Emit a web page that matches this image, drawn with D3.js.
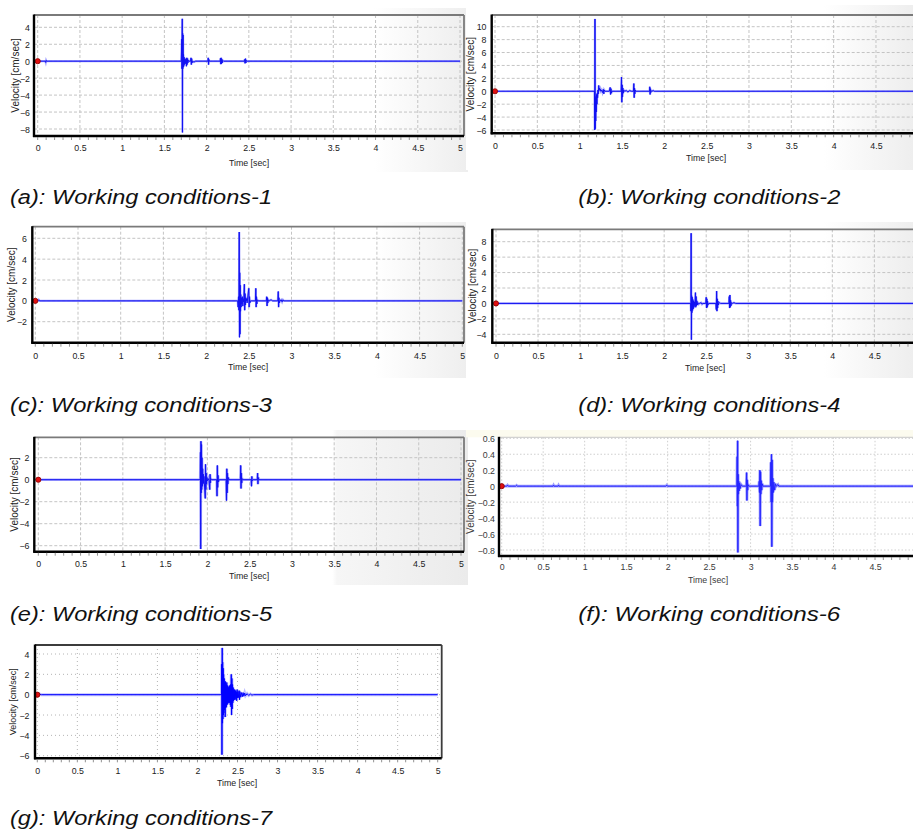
<!DOCTYPE html>
<html><head><meta charset="utf-8">
<script src="https://cdn.jsdelivr.net/npm/d3@7"></script>
<style>
body{margin:0;background:#fff}
svg{display:block}
text{font-family:"Liberation Sans",Arial,sans-serif}
</style>
</head><body>
<svg id="chart" width="913" height="829"></svg>
<script>
// ---------- DATA ----------
const timeTicks = [0, 0.5, 1, 1.5, 2, 2.5, 3, 3.5, 4, 4.5, 5];
const yAxisTitle = "Velocity [cm/sec]";
const xAxisTitle = "Time [sec]";
const captions = ["(a): Working conditions-1", "(b): Working conditions-2", "(c): Working conditions-3",
  "(d): Working conditions-4", "(e): Working conditions-5", "(f): Working conditions-6", "(g): Working conditions-7"];

const yTicksA = [-8, -6, -4, -2, 0, 2, 4];
const yTicksB = [-6, -4, -2, 0, 2, 4, 6, 8, 10];
const yTicksC = [-2, 0, 2, 4, 6];
const yTicksD = [-4, -2, 0, 2, 4, 6, 8];
const yTicksE = [-6, -4, -2, 0, 2];
const yTicksF = [-0.8, -0.6, -0.4, -0.2, 0, 0.2, 0.4, 0.6];
const yTicksG = [-6, -4, -2, 0, 2, 4];

// [time (sec), velocity (cm/sec)]
const waveA = [[0,0],[0.09,0],[0.095,-0.15],[0.1,0.1],[0.105,0],
 [1.70,0],[1.706,2.6],[1.708,-0.9],[1.710,2.9],[1.712,5.0],[1.714,-8.4],[1.716,3.3],[1.718,-0.9],[1.721,3.1],[1.723,-0.7],
 [1.726,0.8],[1.729,-0.6],[1.732,0.5],[1.736,-0.4],[1.74,0.3],[1.744,-0.2],[1.748,0.2],[1.752,-0.3],[1.757,0.3],[1.761,-0.6],
 [1.765,0.4],[1.769,-0.4],[1.774,0.3],[1.778,-0.2],[1.784,0.1],[1.79,0],[1.81,0],[1.815,0.4],[1.819,-0.4],[1.823,0.3],
 [1.828,-0.2],[1.834,0],[1.85,-0.1],[1.87,0],
 [2.015,0],[2.019,0.4],[2.023,-0.4],[2.027,0.2],[2.032,0],
 [2.16,0],[2.164,0.35],[2.168,-0.35],[2.172,0.4],[2.176,-0.3],[2.18,0.25],[2.185,-0.2],[2.19,0.1],[2.2,0],
 [2.445,0],[2.45,0.2],[2.455,-0.25],[2.46,0.3],[2.465,-0.2],[2.47,0.1],[2.48,0],[5,0]];

const waveB = [[0,0],[1.175,0],[1.178,-6.0],[1.181,11.2],[1.184,-5.8],[1.187,-1.0],[1.19,-4.6],[1.193,-0.8],[1.196,-3.2],
 [1.2,-0.5],[1.204,-2.0],[1.208,-0.3],[1.212,-1.0],[1.216,0.2],[1.22,-0.4],[1.225,0.9],[1.23,0.2],[1.235,0.5],[1.24,0.1],
 [1.245,0.3],[1.25,0],[1.26,0.2],[1.27,-0.2],[1.28,0.3],[1.285,-0.4],[1.29,0.2],[1.3,0],[1.35,0],[1.36,0.6],[1.365,-0.5],
 [1.37,0.4],[1.375,-0.3],[1.38,0],
 [1.49,0],[1.494,2.2],[1.498,-1.7],[1.502,1.0],[1.506,-0.9],[1.51,0.5],[1.515,-0.3],[1.52,0.2],[1.53,0],[1.55,0.1],
 [1.57,-0.1],[1.59,0.1],[1.61,0],
 [1.635,0],[1.64,1.2],[1.644,-1.0],[1.648,0.5],[1.652,-0.4],[1.656,0.2],[1.66,0],
 [1.825,0],[1.828,0.7],[1.832,-0.5],[1.836,0.4],[1.84,-0.2],[1.845,0.1],[1.85,0],[1.87,0.1],[1.88,0],[5,0]];

const waveC = [[0,0],[0.03,0],[0.04,0.1],[0.05,0],
 [2.37,0],[2.375,-0.6],[2.38,0.4],[2.384,-0.9],[2.388,6.6],[2.391,-3.5],[2.394,2.7],[2.397,-3.2],[2.4,1.5],[2.403,-1.0],
 [2.406,0.6],[2.41,-0.6],[2.414,0.3],[2.418,-0.3],[2.425,0.4],[2.43,-0.5],[2.436,0.2],[2.44,-0.1],
 [2.448,1.6],[2.452,-0.9],[2.456,0.7],[2.46,-0.4],[2.465,0.3],[2.47,0],[2.475,0.2],[2.48,-0.2],
 [2.5,1.2],[2.504,-0.6],[2.508,0.4],[2.512,-0.2],[2.52,0],
 [2.578,0],[2.582,1.2],[2.586,-0.6],[2.59,0.4],[2.594,-0.3],[2.6,0.1],[2.61,0],
 [2.705,0],[2.71,0.4],[2.714,-0.5],[2.718,0.3],[2.722,-0.2],[2.73,0.1],[2.74,0],[2.76,0.1],[2.78,0],
 [2.84,0],[2.845,0.9],[2.849,-0.6],[2.853,0.3],[2.857,-0.2],[2.865,0],[2.88,0.1],[2.89,-0.1],[2.9,0.1],[2.91,0],[5,0]];

const waveD = [[0,0],[2.315,0],[2.318,-1.0],[2.321,9.1],[2.324,-4.7],[2.327,1.0],[2.33,-1.2],[2.334,0.8],[2.338,-0.9],
 [2.342,0.5],[2.346,-0.7],[2.35,0.3],[2.355,-0.5],[2.36,0.2],[2.366,-0.3],[2.372,1.4],[2.376,-0.5],[2.38,0.9],[2.385,-0.3],
 [2.39,0.3],[2.395,-0.2],[2.4,0.1],[2.41,-0.1],[2.42,0],[2.44,0.1],[2.45,-0.1],[2.46,0],
 [2.495,0],[2.5,0.8],[2.504,-0.6],[2.508,0.6],[2.512,-0.5],[2.516,0.3],[2.52,-0.2],[2.53,0],
 [2.615,0],[2.62,-0.8],[2.624,1.6],[2.628,-1.0],[2.632,0.6],[2.636,-0.6],[2.64,0.3],[2.645,-0.2],[2.65,0],[2.66,0.1],[2.67,0],
 [2.77,0],[2.774,0.9],[2.778,-0.6],[2.782,1.1],[2.786,-0.5],[2.79,0.4],[2.795,-0.3],[2.8,0.1],[2.81,0],[2.83,0.1],[2.85,0],[5,0]];

const waveE = [[0,0],[1.915,0],[1.918,2.5],[1.921,-6.3],[1.924,3.5],[1.927,-1.2],[1.93,3.2],[1.933,-0.9],[1.936,2.0],
 [1.94,-0.6],[1.944,1.0],[1.948,-0.4],[1.952,0.5],[1.956,-0.3],[1.96,0.3],
 [1.975,-1.7],[1.978,1.4],[1.982,-0.9],[1.986,0.6],[1.99,-0.4],[1.995,0.2],[2.0,-0.1],[2.01,0.1],[2.02,-0.1],
 [2.028,-0.9],[2.032,0.5],[2.036,-0.3],[2.04,0.1],[2.05,0],
 [2.11,0],[2.114,-1.5],[2.118,1.3],[2.122,-0.7],[2.126,0.4],[2.13,-0.2],[2.14,0],
 [2.222,0],[2.226,-1.9],[2.23,1.0],[2.234,-1.2],[2.238,0.6],[2.242,-0.4],[2.248,0.2],[2.255,0],
 [2.39,0],[2.394,1.3],[2.398,-0.8],[2.402,0.6],[2.406,-0.3],[2.412,0.1],[2.42,0],
 [2.518,0],[2.522,-0.6],[2.526,0.3],[2.53,-0.1],[2.54,0],
 [2.59,0],[2.594,0.6],[2.598,-0.4],[2.602,0.2],[2.61,0],[5,0]];

const waveF = [[0,0],[0.06,0],[0.07,0.012],[0.08,0],[0.17,0],[0.18,0.01],[0.19,0],[0.62,0],[0.625,0.01],[0.63,0],
 [0.68,0],[0.685,0.01],[0.69,0],[1.98,0],[1.99,0.012],[2.0,0],
 [2.835,0],[2.838,0.37],[2.841,-0.25],[2.844,0.57],[2.847,-0.83],[2.85,0.15],[2.854,-0.1],[2.858,0.06],[2.862,-0.06],
 [2.868,0.04],[2.875,-0.03],[2.885,0.02],[2.9,0],
 [2.948,0],[2.952,0.17],[2.956,-0.18],[2.96,0.08],[2.965,-0.05],[2.97,0.02],[2.98,0],
 [3.1,0],[3.104,0.06],[3.108,-0.08],[3.112,0.2],[3.116,-0.5],[3.12,0.18],[3.124,-0.1],[3.128,0.07],[3.134,-0.05],
 [3.14,0.03],[3.15,0],
 [3.24,0],[3.244,0.3],[3.248,-0.2],[3.252,0.4],[3.256,-0.76],[3.26,0.33],[3.264,-0.2],[3.268,0.1],[3.274,-0.08],
 [3.28,0.05],[3.29,-0.05],[3.3,0.03],[3.31,0],[3.33,0.02],[3.34,0],[5,0]];

const waveG = [[0,0],[0.02,0],[0.03,0.05],[0.05,0],
 [2.3,0],[2.303,3.0],[2.306,-5.9],[2.309,4.6],[2.312,-2.8],[2.315,3.2],[2.318,-2.4],[2.321,2.6],[2.324,-2.0],[2.327,2.0],
 [2.33,-1.8],[2.334,1.6],[2.338,-1.5],[2.342,1.2],[2.346,-2.2],[2.35,1.3],[2.354,-1.3],[2.358,1.0],[2.362,-1.2],[2.366,1.2],
 [2.37,-1.0],[2.374,0.9],[2.378,-0.9],[2.382,0.8],[2.386,-0.8],[2.39,0.7],[2.394,-0.7],[2.398,0.9],[2.402,-0.8],[2.406,0.8],
 [2.41,-1.0],[2.414,1.0],[2.418,-1.2],[2.422,2.0],[2.426,-2.0],[2.43,1.6],[2.434,-1.4],[2.438,1.0],[2.442,-0.8],[2.446,0.7],
 [2.45,-0.6],[2.455,0.5],[2.46,-0.5],[2.465,0.5],[2.47,-0.5],[2.475,0.4],[2.48,-0.4],[2.485,0.3],[2.49,-0.6],[2.495,0.5],
 [2.5,-0.3],[2.505,0.3],[2.51,-0.3],[2.52,0.4],[2.525,-0.5],[2.53,0.3],[2.54,-0.25],[2.55,0.2],[2.56,-0.2],[2.57,0.2],
 [2.58,-0.15],[2.59,0.15],[2.6,-0.1],[2.62,0.1],[2.64,-0.08],[2.66,0.06],[2.68,-0.04],[2.7,0],[5,0]];

// ---------- LAYOUT ----------
const panels = [
 {wave: waveA, ticks: yTicksA, cap: captions[0], style: "std", grad: "g1",
  bg:[0,8,468,172], fr:{l:34,r:464,t:15,b:136}, x0:37.7, x5:460, yPx:[129,27.3],
  yLab:30, xLab:148, tY:163, tX:249, vX:15, capX:10, capY:204},
 {wave: waveB, ticks: yTicksB, cap: captions[1], style: "std", grad: "g1",
  bg:[466,5,913,170], fr:{l:491.7,r:930,t:15,b:133.3}, x0:495, x5:918.3, yPx:[130,26.7],
  yLab:486.5, xLab:146, tY:158, tX:706, vX:470, capX:578.3, capY:204},
 {wave: waveC, ticks: yTicksC, cap: captions[2], style: "std", grad: "g1",
  bg:[0,222,468,378], fr:{l:32.3,r:464,t:226.7,b:342.7}, x0:35.3, x5:462.3, yPx:[321.7,238.3],
  yLab:27, xLab:355.7, tY:367, tX:248, vX:11.7, capX:10, capY:412},
 {wave: waveD, ticks: yTicksD, cap: captions[3], style: "std", grad: "g1",
  bg:[466,222,913,378], fr:{l:492.3,r:930,t:229.3,b:342.7}, x0:496, x5:916.4, yPx:[334.3,241.7],
  yLab:486.5, xLab:356, tY:367.7, tX:705, vX:472.7, capX:578.3, capY:412},
 {wave: waveE, ticks: yTicksE, cap: captions[4], style: "std", grad: "g2",
  bg:[0,430,468,585], fr:{l:34.3,r:464,t:437.3,b:551.7}, x0:38.3, x5:461, yPx:[545.7,457.7],
  yLab:29.5, xLab:564.3, tY:576, tX:249, vX:14, capX:10, capY:621},
 {wave: waveF, ticks: yTicksF, cap: captions[5], style: "f", grad: null,
  bg:[466,430,913,590], fr:{l:499,r:930,t:437.3,b:556}, x0:501.7, x5:916.5, yPx:[550,438.3],
  yLab:495, xLab:566.7, tY:580, tX:708, vX:470, capX:578.3, capY:621},
 {wave: waveG, ticks: yTicksG, cap: captions[6], style: "g", grad: null,
  bg:[0,640,450,790], fr:{l:35,r:441.7,t:645,b:758.3}, x0:37.3, x5:437.7, yPx:[755.7,654],
  yLab:29.5, xLab:771, tY:782.7, tX:237, vX:13.3, capX:10, capY:825}
];

const svg = d3.select("#chart");
const defs = svg.append("defs");
function makeGrad(id, stops) {
  const gr = defs.append("linearGradient").attr("id",id).attr("x1","0").attr("x2","1").attr("y1","0").attr("y2","0");
  stops.forEach(s => gr.append("stop").attr("offset",s[0]).attr("stop-color",s[1]));
}
makeGrad("g1", [[0,"#ffffff"],[0.8,"#ffffff"],[1,"#eeeeee"]]);
makeGrad("g2", [[0,"#ffffff"],[0.71,"#ffffff"],[0.72,"#f6f6f6"],[1,"#ebebeb"]]);

panels.forEach((p, i) => {
  const g = svg.append("g");
  const fr = p.fr;
  const W = Math.min(fr.r, 913);
  if (p.grad) {
    g.append("rect").attr("x",p.bg[0]).attr("y",p.bg[1]).attr("width",p.bg[2]-p.bg[0]).attr("height",p.bg[3]-p.bg[1])
      .attr("fill",`url(#${p.grad})`);
  } else if (p.style === "f") {
    g.append("rect").attr("x",p.bg[0]).attr("y",p.bg[1]).attr("width",p.bg[2]-p.bg[0]).attr("height",fr.t-p.bg[1])
      .attr("fill","#fcfbef");
  }

  const x = d3.scaleLinear().domain([0,5]).range([p.x0, p.x5]);
  const y = d3.scaleLinear().domain([p.ticks[0], p.ticks[p.ticks.length-1]]).range(p.yPx);

  const gridColor = p.style === "std" ? "#c4c4c4" : (p.style === "f" ? "#cfcfcf" : "#b4b4b4");
  const gridDash = p.style === "std" ? "3,2" : (p.style === "f" ? "1.5,2" : "1,3");

  g.append("g").selectAll("line").data(timeTicks.filter(d => x(d) <= 913)).join("line")
    .attr("x1", d=>x(d)).attr("x2", d=>x(d)).attr("y1", fr.t).attr("y2", fr.b)
    .attr("stroke", gridColor).attr("stroke-width",1).attr("stroke-dasharray", gridDash);
  g.append("g").selectAll("line").data(p.ticks).join("line")
    .attr("x1", fr.l).attr("x2", W).attr("y1", d=>y(d)).attr("y2", d=>y(d))
    .attr("stroke", gridColor).attr("stroke-width",1).attr("stroke-dasharray", gridDash);

  const cid = "clip"+i;
  defs.append("clipPath").attr("id",cid).append("rect")
    .attr("x",fr.l).attr("y",fr.t).attr("width",W-fr.l).attr("height",fr.b-fr.t);

  const line = d3.line().x(d=>x(d[0])).y(d=>y(d[1]));
  const under = p.style === "g" ? "#a9a9ff" : (p.style === "f" ? "#7d7dff" : "#8a8aff");
  const main = p.style === "f" ? "#2626ff" : (p.style === "g" ? "#0000ff" : "#1212f2");
  const uw = p.style === "g" ? 3 : (p.style === "f" ? 2.8 : (i === 4 ? 2.6 : 2.2));
  const wg = g.append("g").attr("clip-path",`url(#${cid})`);
  wg.append("path").datum(p.wave).attr("d",line).attr("fill","none")
    .attr("stroke",under).attr("stroke-width", uw).attr("stroke-opacity",0.75);
  wg.append("path").datum(p.wave).attr("d",line).attr("fill","none")
    .attr("stroke",main).attr("stroke-width",1);

  g.append("circle").attr("cx",x(0)).attr("cy",y(0)).attr("r",2.6)
    .attr("fill","#e01010").attr("stroke","#8a0000").attr("stroke-width",0.8);

  const tc = p.style === "g" ? "#3c3c3c" : (p.style === "f" ? "#c8c8c8" : "#7a7a7a");
  g.append("line").attr("x1",fr.l).attr("x2",W).attr("y1",fr.t).attr("y2",fr.t)
    .attr("stroke",tc).attr("stroke-width", p.style==="f"?1:1.8);
  if (fr.r < 913) {
    g.append("line").attr("x1",fr.r).attr("x2",fr.r).attr("y1",fr.t).attr("y2",fr.b)
      .attr("stroke",tc).attr("stroke-width",1.8);
  }
  g.append("line").attr("x1",fr.l).attr("x2",fr.l).attr("y1",fr.t-0.5).attr("y2",fr.b+1)
    .attr("stroke","#000").attr("stroke-width",2.4);
  g.append("line").attr("x1",fr.l-1).attr("x2",W).attr("y1",fr.b).attr("y2",fr.b)
    .attr("stroke","#000").attr("stroke-width",2.4);

  g.append("g").selectAll("line").data(x.ticks(50).filter(d => x(d) <= 913)).join("line")
    .attr("x1", d=>x(d)).attr("x2", d=>x(d)).attr("y1", fr.b+1).attr("y2", fr.b+4)
    .attr("stroke", "#777").attr("stroke-width",0.8);

  const fmt = d3.format("~g");
  const textCol = p.style === "f" ? "#3a3a3a" : "#222";
  const xa = g.append("g").attr("transform",`translate(0,${p.xLab})`)
    .call(d3.axisBottom(x).tickValues(timeTicks.filter(d => x(d) <= 908)).tickFormat(fmt).tickSize(0).tickPadding(0));
  xa.select(".domain").remove();
  xa.selectAll("text").attr("y",0).attr("dy","0.35em").attr("font-size","8.8px")
    .attr("font-family","'Liberation Sans',Arial,sans-serif").attr("fill",textCol);

  const ya = g.append("g").attr("transform",`translate(${p.yLab},0)`)
    .call(d3.axisLeft(y).tickValues(p.ticks).tickFormat(fmt).tickSize(0).tickPadding(0));
  ya.select(".domain").remove();
  ya.selectAll("text").attr("x",0).attr("dy","0.35em").attr("font-size","8.8px")
    .attr("font-family","'Liberation Sans',Arial,sans-serif").attr("fill",textCol);

  g.append("text").attr("x",p.tX).attr("y",p.tY).attr("dy","0.35em").attr("text-anchor","middle")
    .attr("font-size","8.8px").attr("fill",textCol).text(xAxisTitle);
  const cy = (fr.t+fr.b)/2;
  g.append("text").attr("transform",`translate(${p.vX},${cy}) rotate(-90)`).attr("dy","0.35em")
    .attr("text-anchor","middle").attr("font-size", p.style==="g"?"9px":"10px").attr("fill",textCol).text(yAxisTitle);

  svg.append("text").attr("x",p.capX).attr("y",p.capY).attr("font-size","20.5px").attr("font-style","italic")
    .attr("fill","#111").attr("textLength",262).attr("lengthAdjust","spacingAndGlyphs").text(p.cap);
});
</script>
</body></html>
